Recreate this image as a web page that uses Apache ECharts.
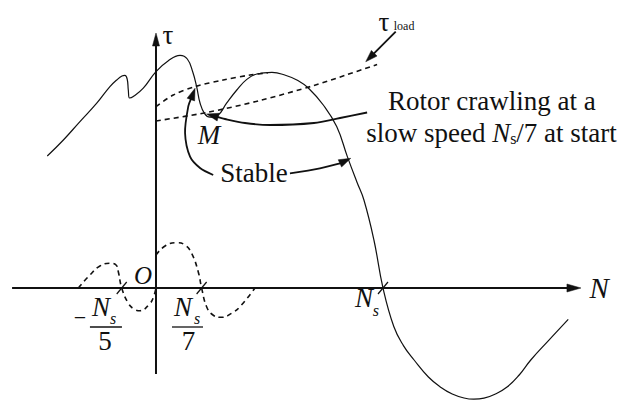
<!DOCTYPE html>
<html><head><meta charset="utf-8">
<script src="https://cdn.jsdelivr.net/npm/echarts@6/dist/echarts.min.js"></script>
<style>html,body{margin:0;padding:0;background:#fff}#c{width:628px;height:400px}</style>
</head><body><div id="c"></div>
<script>
// Speed N in % of synchronous speed (Ns = 100), torque in arbitrary units
const nAxis = [-63.4, 187.2];
const tAxis = [-43, 127.5];
const tickN = [-15.1, 20.1, 100];   // -Ns/5, Ns/7, Ns

const mainTorque = [[-47.9,66],[-40.8,74],[-33.5,83.2],[-26.1,92.4],[-20.3,100.7],[-17.3,104],[-15.0,106],[-13.7,106.3],[-12.7,104.5],[-12.2,99],[-11.7,95],[-10.0,95.7],[-5.6,99.9],[0,108.2],[5.3,113.5],[10.6,116.3],[13.8,114.5],[16.2,108],[17.9,100.7],[19.4,92.5],[21.4,87.2],[23.8,85.4],[27.4,86.5],[31.1,92.4],[35.6,99],[40.0,104.3],[44.4,107],[51.1,107.8],[57,106.4],[62.5,103.8],[67.1,100],[73.7,91.5],[79.6,80.7],[84.3,65.7],[88.5,53],[91.6,44],[96.0,24],[100,0],[104.8,-19.4],[109,-28.8],[113.7,-36],[120,-44.5],[125.4,-49.6],[130.5,-53],[135.7,-55],[140,-55.6],[144.5,-55.1],[149.5,-53],[154.8,-49.4],[160,-43.5],[165.1,-36],[173,-26.2],[181.6,-15.7]];
const loadLower = [[0,83.5],[22.3,87.75],[45.8,93.75],[69.6,101.25],[83.7,106.5],[97.4,111.75]];
const loadUpper = [[0,90.7],[7.6,96.5],[17.2,100.7],[29.6,104],[41.4,106.5],[49.3,107.6]];
const fifthHarmonic = [[-34.2,0],[-29.1,6.5],[-24.7,11],[-20.3,12.35],[-17.6,11.5],[-16.6,8.15],[-15.1,0],[-12.2,-7.65],[-9.7,-10.5],[-7.0,-11.35],[-2.6,-7.65],[-1.1,-4.5],[0,0]];
const seventhHarmonic = [[0,16.5],[4.0,21],[9.1,22.65],[12.8,21.5],[15.7,17.35],[18.6,8.15],[20.1,0],[22.3,-9.35],[25.1,-13.5],[28.9,-14.65],[33.5,-12.5],[37.0,-9.35],[43.6,0]];

const arrowCrawl = [[93.0,87.75],[81.1,85],[69.6,82.5],[50.2,81.5],[39.2,82.5],[30.4,84.5],[22.3,87]];
const arrowStableLeft = [[25.2,56.5],[19.4,60],[15.0,65.65],[12.8,77.5],[14.2,90.65],[17.2,99.85]];
const arrowStableRight = [[59.0,57.35],[72.2,59.85],[81.1,62.35],[85.8,64.85]];
const arrowLoad = [[105.6,128.15],[92.4,113.15]];
const fractionBars = [[-29.1,-15.0,-19.5],[7.05,20.7,-19.5]];

const FONT = '"Liberation Serif","DejaVu Serif",serif';
const INK = '#111';

const annotations = [
  {text:'τ', at:[5.3,126.5], size:27},
  {text:'τ', at:[100.4,133], size:27},
  {text:'load', at:[109.3,131], size:12},
  {text:'Rotor crawling at a', at:[148.0,93.5], size:27},
  {text:'Stable', at:[43.2,57.5], size:27},
  {text:'M', at:[23.3,76.5], size:27, italic:true},
  {text:'O', at:[-5.7,6.5], size:25, italic:true},
  {text:'−', at:[-33.5,-14.5], size:22},
  {text:'N', at:[-24.2,-9.5], size:27, italic:true},
  {text:'s', at:[-18.9,-15], size:16, italic:true},
  {text:'5', at:[-22.5,-26.5], size:27},
  {text:'N', at:[11.9,-9.5], size:27, italic:true},
  {text:'s', at:[18.1,-15], size:16, italic:true},
  {text:'7', at:[14.3,-26.5], size:27},
  {text:'N', at:[91.6,-5], size:27, italic:true},
  {text:'s', at:[96.9,-11], size:16, italic:true},
  {text:'N', at:[195.2,0], size:29, italic:true}
];

function arrowSeries(pts, width, head, smooth) {
  return {
    type:'custom', coordinateSystem:'cartesian2d', clip:false, silent:true,
    data:[[pts[0][0], pts[0][1]]],
    renderItem:function(params, api){
      const p = pts.map(d => api.coord(d));
      const n = p.length, tip = p[n-1], prev = p[n-2];
      let dx = tip[0]-prev[0], dy = tip[1]-prev[1];
      const L = Math.hypot(dx,dy); dx/=L; dy/=L;
      const bx = tip[0]-dx*head[0], by = tip[1]-dy*head[0];
      const hw = head[1];
      const poly = [tip,[bx-dy*hw, by+dx*hw],[bx+dy*hw, by-dx*hw]];
      const line = p.slice(0,n-1).concat([[bx+dx*2,by+dy*2]]);
      return {type:'group', children:[
        {type:'polyline', shape:{points:line, smooth:smooth||0}, style:{stroke:INK, lineWidth:width, fill:null}},
        {type:'polygon', shape:{points:poly}, style:{fill:INK, stroke:INK, lineWidth:0.5}}
      ]};
    }
  };
}

function curve(data, dashed, width, smooth) {
  return {type:'line', data:data, showSymbol:false, symbol:'none', smooth:smooth, silent:true,
    lineStyle:{color:INK, width:width, type: dashed ? [5,4] : 'solid'}};
}

const series = [
  arrowSeries([[nAxis[0],0],[nAxis[1],0]], 2, [14,4], 0),
  arrowSeries([[0,tAxis[0]],[0,tAxis[1]]], 2, [13,3.5], 0),
  curve(mainTorque, false, 1.2, 0.45),
  curve(loadLower, true, 1.6, 0.3),
  curve(loadUpper, true, 1.6, 0.3),
  curve(fifthHarmonic, true, 1.6, 0.45),
  curve(seventhHarmonic, true, 1.6, 0.45),
  arrowSeries(arrowCrawl, 1.8, [12,4], 0.3),
  arrowSeries(arrowStableLeft, 1.8, [12,4], 0.3),
  arrowSeries(arrowStableRight, 1.8, [12,4], 0.3),
  arrowSeries(arrowLoad, 1.8, [12,4], 0),
  {
    type:'custom', coordinateSystem:'cartesian2d', clip:false, silent:true,
    data: tickN.map(n => [n, 0]),
    renderItem:function(params, api){
      const n = api.value(0);
      const a = api.coord([n-2.2,-3]), b = api.coord([n+2.2,3]);
      return {type:'line', shape:{x1:a[0],y1:a[1],x2:b[0],y2:b[1]}, style:{stroke:INK, lineWidth:1.2}};
    }
  },
  {
    type:'custom', coordinateSystem:'cartesian2d', clip:false, silent:true,
    data: fractionBars,
    renderItem:function(params, api){
      const a = api.coord([api.value(0), api.value(2)]), b = api.coord([api.value(1), api.value(2)]);
      return {type:'line', shape:{x1:a[0],y1:a[1],x2:b[0],y2:b[1]}, style:{stroke:INK, lineWidth:1.3}};
    }
  },
  {
    type:'custom', coordinateSystem:'cartesian2d', clip:false, silent:true,
    data: annotations.map((a,i) => [a.at[0], a.at[1], i]),
    renderItem:function(params, api){
      const a = annotations[params.dataIndex];
      const p = api.coord(a.at);
      return {type:'text', x:p[0], y:p[1], style:{text:a.text, fill:INK,
        font:(a.italic?'italic ':'') + a.size + 'px ' + FONT, align:'center', verticalAlign:'middle'}};
    }
  },
  {
    type:'custom', coordinateSystem:'cartesian2d', clip:false, silent:true,
    data:[[147.8,77.5]],
    renderItem:function(params, api){
      const p = api.coord([api.value(0), api.value(1)]);
      return {type:'text', x:p[0], y:p[1], style:{
        text:'slow speed {i|N}{sub|s}/7 at start', fill:INK,
        font:'27px ' + FONT, align:'center', verticalAlign:'middle',
        rich:{ i:{font:'italic 27px ' + FONT, fill:INK}, sub:{font:'16px ' + FONT, fill:INK, verticalAlign:'bottom', padding:[10,0,0,0]} }
      }};
    }
  }
];

const chart = echarts.init(document.getElementById('c'), null, {renderer:'svg'});
chart.setOption({
  animation:false,
  backgroundColor:'#fff',
  grid:{left:0,right:0,top:0,bottom:0},
  xAxis:{type:'value', min:-68.72, max:207.93, show:false},
  yAxis:{type:'value', min:-56, max:144, show:false},
  series:series
});
</script></body></html>
